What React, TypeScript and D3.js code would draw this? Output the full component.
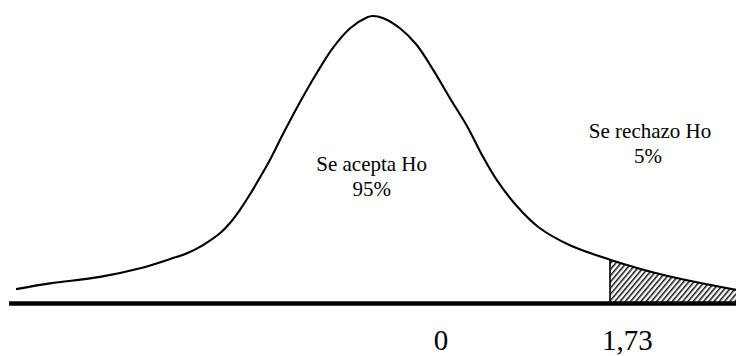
import React from 'react';
import * as d3 from 'd3';

// curve: z position and density height
const zValues = [-4.35, -4.0, -3.49, -3.08, -2.77, -2.6, -2.44, -2.26, -2.16, -2.06, -1.95, -1.85, -1.75, -1.62, -1.44,
  -1.27, -1.11, -0.93, -0.76, -0.7, -0.59, -0.42, -0.25, -0.08, 0.09, 0.27, 0.43, 0.57, 0.78, 1.01, 1.32, 1.73, 2.27, 3.02];
const density = [0.02, 0.028, 0.037, 0.049, 0.062, 0.07, 0.081, 0.098, 0.112, 0.13, 0.153, 0.176, 0.2, 0.235, 0.281,
  0.321, 0.355, 0.383, 0.398, 0.4, 0.397, 0.383, 0.36, 0.325, 0.286, 0.246, 0.204, 0.172, 0.135, 0.105, 0.081, 0.061, 0.04, 0.019];

const tickValues = [0, 1.73];
const tickLabels = ['0', '1,73'];
const critical = 1.73;

const W = 736;
const H = 356;
const FONT = "'Liberation Serif', 'Times New Roman', serif";

export default function App() {
  const pts = zValues.map((z, i) => ({ z, d: density[i] }));

  const x = d3.scaleLinear().domain([0, critical]).range([441, 610]);
  const y = d3.scaleLinear().domain([0, 0.4]).range([303.5, 16]);

  const line = d3.line<{ z: number; d: number }>()
    .x(p => x(p.z)).y(p => y(p.d))
    .curve(d3.curveCatmullRom.alpha(0.5));
  const area = d3.area<{ z: number; d: number }>()
    .x(p => x(p.z)).y0(y(0)).y1(p => y(p.d))
    .curve(d3.curveCatmullRom.alpha(0.5));

  const zMin = d3.min(zValues) as number;
  const zMax = d3.max(zValues) as number;
  const critY = y(density[zValues.indexOf(critical)]);

  return (
    <svg width={W} height={H} style={{ position: 'absolute', left: 0, top: 0, background: '#fff', fontFamily: FONT }}>
      <defs>
        <pattern id="hatch" width={4} height={4} patternUnits="userSpaceOnUse" patternTransform="rotate(40)">
          <rect width={4} height={4} fill="#fff" />
          <line x1={0.8} y1={0} x2={0.8} y2={4} stroke="#000" strokeWidth={1.4} />
        </pattern>
        <clipPath id="tail">
          <rect x={x(critical)} y={0} width={W - x(critical)} height={y(0)} />
        </clipPath>
      </defs>

      <path d={area(pts) || ''} fill="url(#hatch)" clipPath="url(#tail)" />
      <line x1={x(critical)} x2={x(critical)} y1={critY} y2={y(0)} stroke="#000" strokeWidth={1.6} />
      <path d={line(pts) || ''} fill="none" stroke="#000" strokeWidth={2.1} />

      <line x1={x(zMin) - 7} x2={x(zMax)} y1={y(0)} y2={y(0)} stroke="#000" strokeWidth={4.6} />

      <text x={x(-0.71)} y={y(0.185)} textAnchor="middle" fontSize={21} fill="#000">
        <tspan x={x(-0.71)}>Se acepta Ho</tspan>
        <tspan x={x(-0.71)} dy={25.5}>95%</tspan>
      </text>
      <text x={x(2.14)} y={y(0.23)} textAnchor="middle" fontSize={21} fill="#000">
        <tspan x={x(2.14)}>Se rechazo Ho</tspan>
        <tspan x={x(2.12)} dy={25}>5%</tspan>
      </text>

      {tickValues.map((t, i) => (
        <text key={t} x={i === 0 ? x(t) : x(t) - 8} y={349.5} textAnchor={i === 0 ? 'middle' : 'start'}
          fontSize={29} fill="#000">{tickLabels[i]}</text>
      ))}
    </svg>
  );
}
